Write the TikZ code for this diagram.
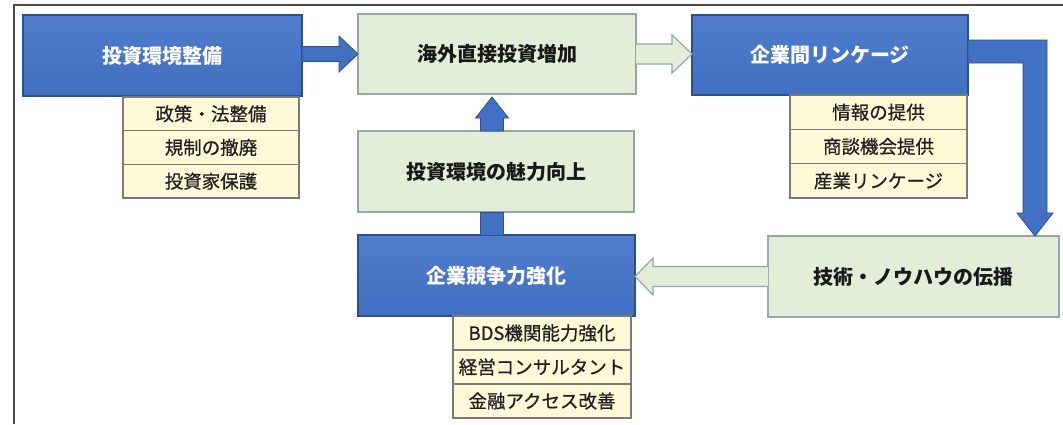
\documentclass[tikz,border=0pt]{standalone}
\usepackage{fontspec}
\setmainfont{Noto Sans CJK JP}
\newfontfamily\subfont[FakeBold=0.6]{Noto Sans CJK JP}
\usetikzlibrary{calc}
\definecolor{bluefill}{HTML}{4270C2}
\definecolor{bluetop}{HTML}{4F7CCB}
\definecolor{blueedge}{HTML}{2F4F8A}
\definecolor{greenfill}{HTML}{E2EED8}
\definecolor{greenedge}{HTML}{98A6AC}
\definecolor{creamfill}{HTML}{FFF9D8}
\definecolor{creamedge}{HTML}{7A7A7A}
\definecolor{framecol}{HTML}{4A4A4A}
\tikzset{
  basebox/.style={rectangle, inner sep=0pt, outer sep=0pt},
  bluebox/.style={basebox, top color=bluetop, bottom color=bluefill, draw=blueedge, line width=1.4pt, text=white, font=\fontsize{20}{24}\selectfont\bfseries},
  greenbox/.style={basebox, fill=greenfill, draw=greenedge, line width=1.2pt, text=black!90, font=\fontsize{20}{24}\selectfont\bfseries},
  subbox/.style={basebox, fill=creamfill, draw=creamedge, line width=1.3pt, text=black!88, font=\subfont\fontsize{18.5}{22}\selectfont},
  bluearr/.style={fill=bluefill, draw=blueedge, line width=0.8pt, line join=miter},
  hollowarr/.style={fill=greenfill, draw=greenedge, line width=1.2pt, line join=miter},
  framed/.style={draw=framecol, line width=2pt}
}
\begin{document}
\begin{tikzpicture}[x=1pt, y=-1pt]
\useasboundingbox (0,0) rectangle (1063,424);
\fill[white] (0,0) rectangle (1063,424);
\draw[framed] (14,424) -- (14,5) -- (1063,5);

% main boxes
\node[bluebox, minimum width=279pt, minimum height=81pt] (A) at (162.5,55.5) {投資環境整備};
\node[greenbox, minimum width=278pt, minimum height=80pt] (B) at (497,54) {海外直接投資増加};
\node[bluebox, minimum width=276pt, minimum height=80pt] (C) at (830,55) {企業間リンケージ};
\node[greenbox, minimum width=276pt, minimum height=81pt] (D) at (496,171.5) {投資環境の魅力向上};
\node[bluebox, minimum width=277pt, minimum height=81pt] (E) at (496.5,275.5) {企業競争力強化};
\node[greenbox, minimum width=291pt, minimum height=81pt] (F) at (913.5,276.5) {技術・ノウハウの伝播};

% sub boxes
\node[subbox, minimum width=176pt, minimum height=33.7pt] (A1) at (211,113.8) {政策・法整備};
\node[subbox, minimum width=176pt, minimum height=33.7pt] (A2) at (211,147.5) {規制の撤廃};
\node[subbox, minimum width=176pt, minimum height=33.7pt] (A3) at (211,181.2) {投資家保護};

\node[subbox, minimum width=177pt, minimum height=34.3pt] (C1) at (878.5,112.2) {情報の提供};
\node[subbox, minimum width=177pt, minimum height=34.3pt] (C2) at (878.5,146.5) {商談機会提供};
\node[subbox, minimum width=177pt, minimum height=34.3pt] (C3) at (878.5,180.8) {産業リンケージ};

\node[subbox, minimum width=178pt, minimum height=34pt] (E1) at (542,333) {BDS機関能力強化};
\node[subbox, minimum width=178pt, minimum height=34pt] (E2) at (542,367) {経営コンサルタント};
\node[subbox, minimum width=178pt, minimum height=34pt] (E3) at (542,401) {金融アクセス改善};

% A -> B (blue block arrow)
\draw[bluearr] ($(A.east|-B.west)+(0,-7.5)$) -- ($(B.west)+(-19,-7.5)$) -- ($(B.west)+(-19,-18)$)
  -- (B.west) -- ($(B.west)+(-19,18)$) -- ($(B.west)+(-19,7.5)$) -- ($(A.east|-B.west)+(0,7.5)$) -- cycle;

% B -> C (hollow arrow)
\coordinate (ctip) at (C.west|-B.east);
\draw[hollowarr] ($(B.east)+(0,-10)$) -- ($(ctip)+(-20,-10)$) -- ($(ctip)+(-20,-19)$)
  -- (ctip) -- ($(ctip)+(-20,19)$) -- ($(ctip)+(-20,10)$) -- ($(B.east)+(0,10)$);

% C -> F (bent blue arrow)
\coordinate (ftip) at ($(F.north east)+(-24,0)$);
\draw[bluearr] ($(C.east)+(0,-15)$) -- ($(ftip|-C.east)+(12,-15)$) -- ($(ftip)+(12,-23)$)
  -- ($(ftip)+(18,-23)$) -- (ftip) -- ($(ftip)+(-18,-23)$) -- ($(ftip)+(-12,-23)$)
  -- ($(ftip|-C.east)+(-12,8)$) -- ($(C.east)+(0,8)$) -- cycle;

% F -> E (hollow arrow)
\coordinate (etip) at (E.east|-F.west);
\draw[hollowarr] ($(F.west)+(0,-10)$) -- ($(etip)+(18,-10)$) -- ($(etip)+(18,-18.5)$)
  -- (etip) -- ($(etip)+(18,18.5)$) -- ($(etip)+(18,10)$) -- ($(F.west)+(0,10)$);

% E -> D (blue shaft) and D -> B (blue arrow)
\draw[bluearr] ($(D.south)+(-16,0)$) rectangle ($(E.north)+(7,0)$);
\coordinate (btip) at ($(B.south)+(-5,3)$);
\draw[bluearr] ($(D.north)+(-15.5,0)$) -- ($(btip|-D.north)+(11.5,0)$) -- ($(btip)+(11.5,21)$)
  -- ($(btip)+(16.5,21)$) -- (btip) -- ($(btip)+(-16.5,21)$) -- ($(btip)+(-11.5,21)$)
  -- ($(btip|-D.north)+(-11.5,0)$) -- cycle;
\end{tikzpicture}
\end{document}
